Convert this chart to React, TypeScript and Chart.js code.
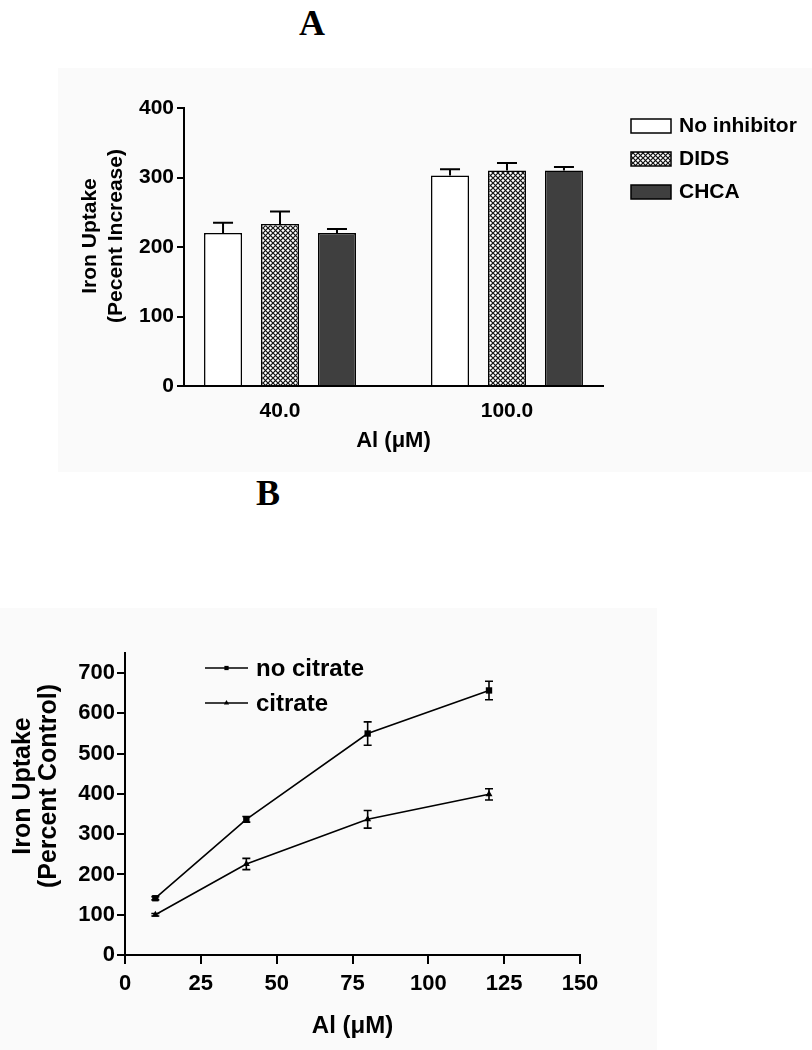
import React, { useEffect, useRef } from 'react';
import { Chart, registerables } from 'chart.js';
import { drawPoint } from 'chart.js/helpers';

Chart.register(...registerables);

const FONT = '"Liberation Sans", Arial, Helvetica, sans-serif';

// ---------- Panel A data ----------
const doseLabelsA = ['40.0', '100.0'];
const dosePositionsA = [1, 2];
const seriesLabelsA = ['No inhibitor', 'DIDS', 'CHCA'];
const noInhibitorValues = [220, 303];
const noInhibitorErrors = [15, 9];
const didsValues = [233, 310];
const didsErrors = [18, 11];
const chcaValues = [220, 310];
const chcaErrors = [6, 5];
const yTicksA = [0, 100, 200, 300, 400];
const xTitleA = 'Al (μM)';
const yTitleA = ['Iron Uptake', '(Pecent Increase)'];

// ---------- Panel B data ----------
const alDosesB = [10, 40, 80, 120];
const seriesLabelsB = ['no citrate', 'citrate'];
const noCitrateValues = [141, 337, 550, 657];
const noCitrateErrors = [4, 7, 29, 23];
const citrateValues = [100, 226, 337, 399];
const citrateErrors = [3, 14, 22, 14];
const xTicksB = [0, 25, 50, 75, 100, 125, 150];
const yTicksB = [0, 100, 200, 300, 400, 500, 600, 700];
const yMaxB = 750;
const xTitleB = 'Al (μM)';
const yTitleB = ['Iron Uptake', '(Percent Control)'];

function makeHatch(): any {
  const s = 5;
  const c = document.createElement('canvas');
  c.width = s;
  c.height = s;
  const g = c.getContext('2d')!;
  g.fillStyle = '#ffffff';
  g.fillRect(0, 0, s, s);
  g.strokeStyle = '#111111';
  g.lineWidth = 1.2;
  g.beginPath();
  g.moveTo(-1, -1);
  g.lineTo(s + 1, s + 1);
  g.moveTo(-1, s + 1);
  g.lineTo(s + 1, -1);
  g.stroke();
  return g.createPattern(c, 'repeat');
}

const errorBarsPlugin = {
  id: 'errorBars',
  afterDatasetsDraw(chart: any, _args: any, opts: any) {
    const { ctx } = chart;
    const yScale = chart.scales.y;
    chart.data.datasets.forEach((ds: any, i: number) => {
      const errs = ds.errors;
      if (!errs) return;
      const meta = chart.getDatasetMeta(i);
      meta.data.forEach((el: any, j: number) => {
        const v = ds.data[j].y;
        const e = errs[j];
        const top = yScale.getPixelForValue(v + e);
        const bottom = opts.bothSides ? yScale.getPixelForValue(v - e) : el.y;
        ctx.save();
        ctx.strokeStyle = '#000';
        ctx.lineWidth = opts.lineWidth;
        ctx.beginPath();
        ctx.moveTo(el.x, bottom);
        ctx.lineTo(el.x, top);
        ctx.moveTo(el.x - opts.capHalf, top);
        ctx.lineTo(el.x + opts.capHalf, top);
        if (opts.bothSides) {
          ctx.moveTo(el.x - opts.capHalf, bottom);
          ctx.lineTo(el.x + opts.capHalf, bottom);
        }
        ctx.stroke();
        ctx.restore();
      });
    });
  },
};

const yTitlePlugin = {
  id: 'yTitle',
  afterDraw(chart: any, _args: any, opts: any) {
    const { ctx } = chart;
    ctx.save();
    ctx.font = `bold ${opts.size}px ${FONT}`;
    ctx.fillStyle = '#000';
    ctx.textAlign = 'center';
    ctx.textBaseline = 'middle';
    ctx.translate(opts.x, opts.y);
    ctx.rotate(-Math.PI / 2);
    opts.lines.forEach((t: string, k: number) => ctx.fillText(t, 0, k * opts.gap));
    ctx.restore();
  },
};

// Legend with filled boxes (panel A), drawn from the datasets' own styles
const boxLegendPlugin = {
  id: 'boxLegend',
  afterDraw(chart: any, _args: any, opts: any) {
    const { ctx, chartArea } = chart;
    chart.data.datasets.forEach((ds: any, i: number) => {
      const x = chartArea.right + opts.left;
      const y = chartArea.top + opts.top + i * opts.rowGap;
      ctx.save();
      ctx.fillStyle = ds.backgroundColor;
      ctx.strokeStyle = ds.borderColor;
      ctx.lineWidth = ds.borderWidth;
      ctx.fillRect(x, y, opts.boxWidth, opts.boxHeight);
      ctx.strokeRect(x, y, opts.boxWidth, opts.boxHeight);
      ctx.fillStyle = '#000';
      ctx.font = `bold ${opts.size}px ${FONT}`;
      ctx.textAlign = 'left';
      ctx.textBaseline = 'middle';
      ctx.fillText(ds.label, x + opts.boxWidth + opts.textGap, y + opts.boxHeight / 2);
      ctx.restore();
    });
  },
};

// Legend with line + marker (panel B)
const lineLegendPlugin = {
  id: 'lineLegend',
  afterDraw(chart: any, _args: any, opts: any) {
    const { ctx, chartArea } = chart;
    chart.data.datasets.forEach((ds: any, i: number) => {
      const y = chartArea.top + opts.top + i * opts.rowGap;
      const x0 = chartArea.left + opts.left;
      ctx.save();
      ctx.strokeStyle = ds.borderColor;
      ctx.lineWidth = ds.borderWidth;
      ctx.beginPath();
      ctx.moveTo(x0, y);
      ctx.lineTo(x0 + opts.lineLength, y);
      ctx.stroke();
      ctx.fillStyle = '#000';
      drawPoint(ctx, { pointStyle: ds.pointStyle, rotation: 0, radius: opts.markerRadius, borderWidth: 0 } as any, x0 + opts.lineLength / 2, y);
      ctx.font = `bold ${opts.size}px ${FONT}`;
      ctx.textAlign = 'left';
      ctx.textBaseline = 'middle';
      ctx.fillText(ds.label, x0 + opts.lineLength + opts.textGap, y + 1);
      ctx.restore();
    });
  },
};

function PanelA() {
  const ref = useRef<HTMLCanvasElement>(null);
  useEffect(() => {
    const canvas = ref.current!;
    const hatch = makeHatch();
    const pts = (vals: number[]) => dosePositionsA.map((x, i) => ({ x, y: vals[i] }));
    const tickFont = { family: FONT, weight: 'bold' as const, size: 21 };
    const chart = new Chart(canvas, {
      type: 'bar',
      data: {
        datasets: [
          { label: seriesLabelsA[0], data: pts(noInhibitorValues), errors: noInhibitorErrors, backgroundColor: '#ffffff', borderColor: '#000', borderWidth: 1.5 } as any,
          { label: seriesLabelsA[1], data: pts(didsValues), errors: didsErrors, backgroundColor: hatch, borderColor: '#000', borderWidth: 1.5 } as any,
          { label: seriesLabelsA[2], data: pts(chcaValues), errors: chcaErrors, backgroundColor: '#3f3f3f', borderColor: '#000', borderWidth: 1.5 } as any,
        ],
      },
      options: {
        animation: false,
        responsive: false,
        maintainAspectRatio: false,
        layout: { padding: { top: 40, left: 0, right: 209, bottom: 0 } },
        datasets: { bar: { categoryPercentage: 0.753, barPercentage: 0.667 } },
        scales: {
          x: {
            type: 'linear',
            min: 0.577,
            max: 2.423,
            offset: false,
            afterBuildTicks: (s: any) => { s.ticks = dosePositionsA.map((v) => ({ value: v })); },
            afterFit: (s: any) => { s.height = 86; },
            ticks: {
              autoSkip: false,
              maxRotation: 0,
              padding: 5,
              color: '#000',
              font: tickFont,
              callback: (v: any) => { const k = dosePositionsA.indexOf(Number(v)); return k >= 0 ? doseLabelsA[k] : ''; },
            },
            grid: { display: false },
            border: { display: true, color: '#000', width: 2 },
            title: { display: true, text: xTitleA, color: '#000', font: { family: FONT, weight: 'bold', size: 22 }, padding: { top: 0, bottom: 18 } },
          },
          y: {
            type: 'linear',
            min: yTicksA[0],
            max: yTicksA[yTicksA.length - 1],
            afterBuildTicks: (s: any) => { s.ticks = yTicksA.map((v) => ({ value: v })); },
            afterFit: (s: any) => { s.width = 126; },
            ticks: { padding: 3, color: '#000', font: tickFont },
            grid: { drawOnChartArea: false, drawTicks: true, tickLength: 7, color: '#000', lineWidth: 2 },
            border: { display: true, color: '#000', width: 2 },
          },
        } as any,
        plugins: {
          legend: { display: false },
          tooltip: { enabled: false },
          errorBars: { capHalf: 10, bothSides: false, lineWidth: 2 },
          yTitle: { lines: yTitleA, size: 21, x: 32, y: 168, gap: 26 },
          boxLegend: { left: 28, top: 11, rowGap: 33, boxWidth: 40, boxHeight: 14, textGap: 8, size: 21 },
        } as any,
      },
      plugins: [errorBarsPlugin, yTitlePlugin, boxLegendPlugin],
    } as any);
    return () => chart.destroy();
  }, []);
  return (
    <canvas
      ref={ref}
      width={754}
      height={404}
      style={{ position: 'absolute', left: 58, top: 68, width: 754, height: 404, background: '#fafafa' }}
    />
  );
}

function PanelB() {
  const ref = useRef<HTMLCanvasElement>(null);
  useEffect(() => {
    const canvas = ref.current!;
    const pts = (vals: number[]) => alDosesB.map((x, i) => ({ x, y: vals[i] }));
    const tickFont = { family: FONT, weight: 'bold' as const, size: 22 };
    const chart = new Chart(canvas, {
      type: 'line',
      data: {
        datasets: [
          {
            label: seriesLabelsB[0], data: pts(noCitrateValues), errors: noCitrateErrors,
            borderColor: '#000', backgroundColor: '#000', borderWidth: 1.6, tension: 0, fill: false,
            pointStyle: 'rect', pointRadius: 4.5, pointBackgroundColor: '#000', pointBorderColor: '#000', pointBorderWidth: 0,
          } as any,
          {
            label: seriesLabelsB[1], data: pts(citrateValues), errors: citrateErrors,
            borderColor: '#000', backgroundColor: '#000', borderWidth: 1.6, tension: 0, fill: false,
            pointStyle: 'triangle', pointRadius: 4, pointBackgroundColor: '#000', pointBorderColor: '#000', pointBorderWidth: 0,
          } as any,
        ],
      },
      options: {
        animation: false,
        responsive: false,
        maintainAspectRatio: false,
        layout: { padding: { top: 45, left: 0, right: 77, bottom: 0 } },
        scales: {
          x: {
            type: 'linear',
            min: xTicksB[0],
            max: xTicksB[xTicksB.length - 1],
            afterBuildTicks: (s: any) => { s.ticks = xTicksB.map((v) => ({ value: v })); },
            afterFit: (s: any) => { s.height = 95; },
            ticks: { autoSkip: false, maxRotation: 0, padding: 7, color: '#000', font: tickFont },
            grid: { drawOnChartArea: false, drawTicks: true, tickLength: 9, color: '#000', lineWidth: 2 },
            border: { display: true, color: '#000', width: 2 },
            title: { display: true, text: xTitleB, color: '#000', font: { family: FONT, weight: 'bold', size: 24 }, padding: { top: 0, bottom: 9 } },
          },
          y: {
            type: 'linear',
            min: 0,
            max: yMaxB,
            afterBuildTicks: (s: any) => { s.ticks = yTicksB.map((v) => ({ value: v })); },
            afterFit: (s: any) => { s.width = 125; },
            ticks: { padding: 2, color: '#000', font: tickFont },
            grid: { drawOnChartArea: false, drawTicks: true, tickLength: 8, color: '#000', lineWidth: 2 },
            border: { display: true, color: '#000', width: 2 },
          },
        } as any,
        plugins: {
          legend: { display: false },
          tooltip: { enabled: false },
          errorBars: { capHalf: 4, bothSides: true, lineWidth: 1.6 },
          yTitle: { lines: yTitleB, size: 25, x: 23, y: 178, gap: 26 },
          lineLegend: { left: 80, top: 15, rowGap: 35, lineLength: 43, textGap: 8, markerRadius: 3, size: 24 },
        } as any,
      },
      plugins: [errorBarsPlugin, yTitlePlugin, lineLegendPlugin],
    } as any);
    return () => chart.destroy();
  }, []);
  return (
    <canvas
      ref={ref}
      width={657}
      height={442}
      style={{ position: 'absolute', left: 0, top: 608, width: 657, height: 442, background: '#fafafa' }}
    />
  );
}

const panelLabelStyle: React.CSSProperties = {
  position: 'absolute',
  transform: 'translate(-50%, -50%)',
  font: 'bold 36px "Liberation Serif", "Times New Roman", serif',
  lineHeight: 1,
  color: '#000',
};

export default function App() {
  return (
    <div style={{ position: 'absolute', left: 0, top: 0, width: 812, height: 1050, background: '#fff', overflow: 'hidden' }}>
      <div style={{ ...panelLabelStyle, left: 312, top: 23 }}>A</div>
      <PanelA />
      <div style={{ ...panelLabelStyle, left: 268, top: 493 }}>B</div>
      <PanelB />
    </div>
  );
}
